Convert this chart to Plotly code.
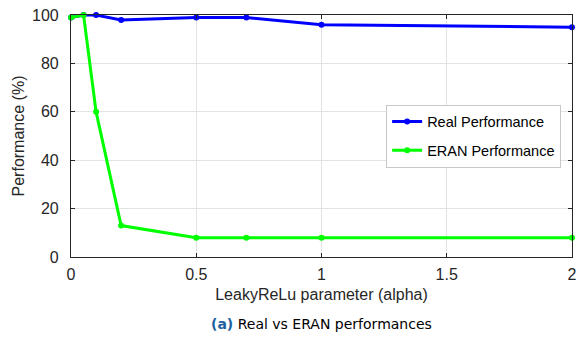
import plotly.graph_objects as go

alpha = [0, 0.05, 0.1, 0.2, 0.5, 0.7, 1, 2]
real_perf = [99, 100, 100, 98, 99, 99, 96, 95]
eran_perf = [99, 100, 60, 13, 8, 8, 8, 8]
x_ticks = [0, 0.5, 1, 1.5, 2]
x_tick_labels = ["0", "0.5", "1", "1.5", "2"]
y_ticks = [0, 20, 40, 60, 80, 100]

fig = go.Figure()
fig.add_trace(go.Scatter(x=alpha, y=real_perf, mode="lines+markers", name="Real Performance",
                         line=dict(color="#0000ff", width=3), marker=dict(size=6, color="#0000ff"),
                         legendgroup="a", cliponaxis=False))
fig.add_trace(go.Scatter(x=alpha, y=eran_perf, mode="lines+markers", name="ERAN Performance",
                         line=dict(color="#00ff00", width=3), marker=dict(size=6, color="#00ff00"),
                         legendgroup="b", cliponaxis=False))

axis_common = dict(showline=True, linecolor="#262626", linewidth=1.2, mirror="allticks",
                   ticks="inside", ticklen=4, tickcolor="#262626", showgrid=True,
                   gridcolor="#e3e3e3", gridwidth=1, zeroline=False, ticklabeloverflow="allow",
                   automargin=False,
                   tickfont=dict(family="Liberation Sans", size=16, color="#262626"))

fig.update_layout(
    width=576, height=340, margin=dict(l=71, r=4, t=15, b=83),
    paper_bgcolor="white", plot_bgcolor="white",
    font=dict(family="Liberation Sans", color="#262626"),
    xaxis=dict(range=[-0.0002, 2.0002], tickvals=x_ticks, ticktext=x_tick_labels,
               ticklabelstandoff=3,
               title=dict(text="LeakyReLu parameter (alpha)", font=dict(size=16, color="#262626"), standoff=6),
               **axis_common),
    yaxis=dict(range=[0, 100.05], tickvals=y_ticks, ticklabelstandoff=8,
               title=dict(text="Performance (%)", font=dict(size=16, color="#262626"), standoff=3),
               **axis_common),
    legend=dict(x=0.629, y=0.63, xanchor="left", yanchor="top", bgcolor="white",
                bordercolor="#c8c8c8", borderwidth=1, traceorder="grouped", tracegroupgap=7,
                font=dict(family="Liberation Sans", size=14.5, color="black")),
    showlegend=True,
)
fig.add_annotation(xref="paper", yref="paper", x=0.5, y=-0.235, xanchor="center", yanchor="top",
                   showarrow=False,
                   text="<b><span style='color:#1f5fa0'>(a)</span></b> Real vs ERAN performances",
                   font=dict(family="DejaVu Sans", size=14, color="black"))
fig.write_html("out.html")
